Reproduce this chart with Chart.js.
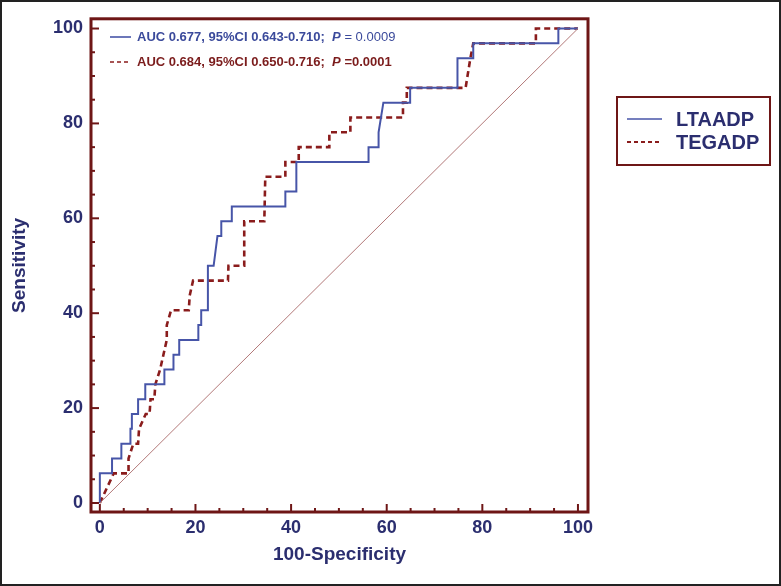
<!DOCTYPE html>
<html>
<head>
<meta charset="utf-8">
<script src="https://cdn.jsdelivr.net/npm/chart.js@4.4.1/dist/chart.umd.min.js"></script>
<style>
  html, body { margin: 0; padding: 0; background: #fff; }
  #wrap { width: 781px; height: 586px; }
</style>
</head>
<body>
<div id="wrap"><canvas id="rocChart" width="781" height="586"></canvas></div>
<script>
// ROC data (100-Specificity vs Sensitivity)
const ltaX = [0, 0, 2.55, 2.55, 4.5, 4.5, 6.4, 6.4, 6.7, 6.7, 8.0, 8.0, 9.5, 9.5, 13.5, 13.5, 15.4, 15.4, 16.6, 16.6, 20.6, 20.6, 21.2, 21.2, 22.6, 22.6, 23.8, 24.2, 24.6, 25.4, 25.4, 27.6, 27.6, 38.8, 38.8, 41.1, 41.1, 56.2, 56.2, 58.3, 58.3, 59.3, 64.9, 64.9, 74.8, 74.8, 78.1, 78.1, 95.9, 95.9, 100]
const ltaY = [0, 6.25, 6.25, 9.375, 9.375, 12.5, 12.5, 15.625, 15.625, 18.75, 18.75, 21.875, 21.875, 25, 25, 28.125, 28.125, 31.25, 31.25, 34.375, 34.375, 37.5, 37.5, 40.625, 40.625, 50, 50, 53.125, 56.25, 56.25, 59.375, 59.375, 62.5, 62.5, 65.625, 65.625, 71.875, 71.875, 75, 75, 78.125, 84.375, 84.375, 87.5, 87.5, 93.75, 93.75, 96.875, 96.875, 100, 100]

const tegX = [0, 2.9, 6.0, 6.0, 7.0, 8.0, 8.2, 9.6, 10.4, 10.6, 11.4, 11.6, 12.6, 13.3, 14.0, 14.0, 14.9, 18.6, 18.8, 19.5, 26.8, 26.9, 30.2, 30.2, 34.4, 34.6, 38.8, 38.8, 41.6, 41.6, 48.0, 48.0, 52.4, 52.4, 63.4, 63.4, 64.2, 64.2, 76.5, 77.5, 78.1, 91.2, 91.2, 100]
const tegY = [0, 6.25, 6.25, 9.375, 12.5, 12.5, 15.625, 18.75, 18.75, 21.875, 21.875, 25, 28.125, 31.25, 34.375, 37.5, 40.625, 40.625, 43.75, 46.875, 46.875, 50, 50, 59.375, 59.375, 68.75, 68.75, 71.875, 71.875, 75, 75, 78.125, 78.125, 81.25, 81.25, 84.375, 84.375, 87.5, 87.5, 93.75, 96.875, 96.875, 100, 100]

const diagX = [0, 100]
const diagY = [0, 100]

const tickVals = [0, 20, 40, 60, 80, 100]
const seriesNames = ['LTAADP', 'TEGADP']
const aucText = [
    'AUC 0.677, 95%CI 0.643-0.710;  ',
    'AUC 0.684, 95%CI 0.650-0.716;  '
]
const pText = ['= 0.0009', '=0.0001']

const navy = '#2b2e6f'
const frameRed = '#6e1616'
const blue = '#4755a8'
const red = '#8a1c1c'
const fam = '"Liberation Sans", Arial, sans-serif'

const toPoints = (xs, ys) => xs.map((x, i) => ({ x: x, y: ys[i] }))

// frame, inner ticks, annotation and legend box
const decor = {
    id: 'decor',
    afterDraw(chart) {
        const ctx = chart.ctx
        const a = chart.chartArea
        const xs = chart.scales.x
        const ys = chart.scales.y
        ctx.save()

        // inner tick marks
        ctx.strokeStyle = frameRed
        ctx.lineWidth = 2
        for (let v = 0; v <= 100; v += 5) {
            const major = v % 20 === 0
            const len = major ? 8 : 4
            const px = xs.getPixelForValue(v)
            ctx.beginPath()
            ctx.moveTo(px, a.bottom)
            ctx.lineTo(px, a.bottom - len)
            ctx.stroke()
            const py = ys.getPixelForValue(v)
            ctx.beginPath()
            ctx.moveTo(a.left, py)
            ctx.lineTo(a.left + len, py)
            ctx.stroke()
        }

        // plot frame
        ctx.lineWidth = 3
        ctx.strokeRect(a.left, a.top, a.right - a.left, a.bottom - a.top)

        // AUC annotation
        ctx.textBaseline = 'middle'
        const rows = [
            { y: 37, color: blue, textColor: '#3b4a9b', dash: [] },
            { y: 62, color: red, textColor: '#7b1c1c', dash: [4, 3] }
        ]
        rows.forEach((r, i) => {
            ctx.strokeStyle = r.color
            ctx.lineWidth = 1.6
            ctx.setLineDash(r.dash)
            ctx.beginPath()
            ctx.moveTo(110, r.y)
            ctx.lineTo(131, r.y)
            ctx.stroke()
            ctx.setLineDash([])
            ctx.fillStyle = r.textColor
            ctx.font = 'bold 13px ' + fam
            let x = 137
            ctx.fillText(aucText[i], x, r.y)
            x += ctx.measureText(aucText[i]).width
            ctx.font = 'italic bold 13px ' + fam
            ctx.fillText('P', x, r.y)
            x += ctx.measureText('P ').width
            ctx.font = (i === 0 ? '' : 'bold ') + '13px ' + fam
            ctx.fillText(pText[i], x, r.y)
        })

        // legend box on the right
        ctx.strokeStyle = frameRed
        ctx.lineWidth = 2
        ctx.strokeRect(617, 97, 153, 68)
        const legendRows = [
            { y: 119, color: blue, dash: [], w: 1.6 },
            { y: 142, color: red, dash: [4, 3], w: 2 }
        ]
        ctx.font = 'bold 20px ' + fam
        legendRows.forEach((r, i) => {
            ctx.strokeStyle = r.color
            ctx.lineWidth = r.w
            ctx.setLineDash(r.dash)
            ctx.beginPath()
            ctx.moveTo(627, r.y)
            ctx.lineTo(662, r.y)
            ctx.stroke()
            ctx.setLineDash([])
            ctx.fillStyle = navy
            ctx.fillText(seriesNames[i], 676, r.y + 1)
        })

        // outer picture border
        ctx.strokeStyle = '#222'
        ctx.lineWidth = 2
        ctx.strokeRect(1, 1, chart.width - 2, chart.height - 2)
        ctx.restore()
    }
}

const tickFont = { family: fam, size: 18, weight: 'bold' }
const titleFont = { family: fam, size: 19, weight: 'bold' }

new Chart(document.getElementById('rocChart'), {
    type: 'line',
    data: {
        datasets: [
            {
                label: 'diagonal',
                data: toPoints(diagX, diagY),
                borderColor: '#b27878',
                borderWidth: 1,
                pointRadius: 0,
                tension: 0
            },
            {
                label: seriesNames[0],
                data: toPoints(ltaX, ltaY),
                borderColor: blue,
                borderWidth: 2,
                pointRadius: 0,
                tension: 0
            },
            {
                label: seriesNames[1],
                data: toPoints(tegX, tegY),
                borderColor: red,
                borderWidth: 2.6,
                borderDash: [6, 4],
                pointRadius: 0,
                tension: 0
            }
        ]
    },
    options: {
        responsive: false,
        animation: false,
        layout: { padding: { top: 15, right: 193, left: 0, bottom: 0 } },
        plugins: {
            legend: { display: false },
            tooltip: { enabled: false }
        },
        scales: {
            x: {
                type: 'linear',
                min: -1.85,
                max: 102.1,
                afterBuildTicks: (scale) => { scale.ticks = tickVals.map(v => ({ value: v })) },
                afterFit: (scale) => { scale.height = 74 },
                grid: { display: false, drawTicks: false },
                border: { display: false },
                ticks: { color: navy, font: tickFont, padding: 5, maxRotation: 0 },
                title: { display: true, text: '100-Specificity', color: navy, font: titleFont, padding: { top: 0, bottom: 20 } }
            },
            y: {
                type: 'linear',
                min: -1.9,
                max: 102.05,
                afterBuildTicks: (scale) => { scale.ticks = tickVals.map(v => ({ value: v })) },
                afterFit: (scale) => { scale.width = 91 },
                grid: { display: false, drawTicks: false },
                border: { display: false },
                ticks: { color: navy, font: tickFont, padding: 8 },
                title: { display: true, text: 'Sensitivity', color: navy, font: titleFont, padding: { bottom: 0, top: 8 } }
            }
        }
    },
    plugins: [decor]
});
</script>
</body>
</html>
